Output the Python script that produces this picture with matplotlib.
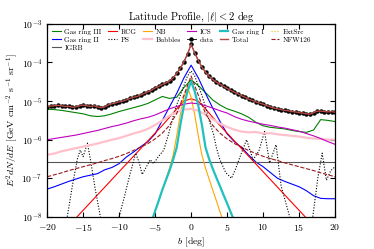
import numpy as np
import matplotlib
matplotlib.use('Agg')
import matplotlib.pyplot as plt

plt.rcParams['font.family'] = 'serif'
plt.rcParams['font.serif'] = ['cmr10', 'DejaVu Serif']
plt.rcParams['mathtext.fontset'] = 'cm'
plt.rcParams['axes.formatter.use_mathtext'] = True
plt.rcParams['axes.unicode_minus'] = True

# latitude grids
b_wide = np.arange(-20, 21, 1)
b_core = np.arange(-7, 7.5, 0.5)
b_data = np.arange(-20, 20.5, 0.5)

# log10 of E^2 dN/dE
data_log = [-5.15, -5.13, -5.12, -5.11, -5.12, -5.14, -5.13, -5.16, -5.15, -5.12,
            -5.10, -5.12, -5.14, -5.12, -5.15, -5.17, -5.15, -5.10, -5.07, -5.05,
            -5.02, -5.00, -4.97, -4.93, -4.90, -4.88, -4.84, -4.80, -4.76, -4.72,
            -4.66, -4.62, -4.57, -4.53, -4.48, -4.40, -4.28, -4.15, -3.98, -3.78,
            -3.53,
            -3.75, -3.95, -4.12, -4.25, -4.36, -4.44, -4.51, -4.56, -4.62, -4.67,
            -4.72, -4.77, -4.81, -4.86, -4.90, -4.95, -4.98, -5.02, -5.05, -5.08,
            -5.12, -5.15, -5.18, -5.20, -5.22, -5.24, -5.25, -5.27, -5.28, -5.30,
            -5.31, -5.33, -5.34, -5.30, -5.26, -5.26, -5.27, -5.28, -5.27, -5.29]
total_log = data_log

gas3_log = [-5.21, -5.22, -5.24, -5.27, -5.30, -5.33, -5.38, -5.40, -5.38, -5.33,
            -5.27, -5.22, -5.17, -5.12, -5.06, -4.97, -4.88, -4.93, -4.90, -4.65,
            -4.45,
            -4.60, -4.78, -4.97, -5.10, -5.20, -5.26, -5.33, -5.42, -5.55, -5.64,
            -5.68, -5.70, -5.72, -5.76, -5.79, -5.81, -5.75, -5.48, -5.50, -5.53]
ics_log = [-6.00, -5.97, -5.94, -5.91, -5.88, -5.84, -5.80, -5.76, -5.71, -5.66,
           -5.62, -5.57, -5.51, -5.46, -5.42, -5.36, -5.28, -5.20, -5.14, -5.08,
           -5.05,
           -5.07, -5.12, -5.18, -5.25, -5.31, -5.40, -5.47, -5.52, -5.56, -5.60,
           -5.63, -5.67, -5.70, -5.74, -5.78, -5.84, -5.90, -5.97, -6.05, -6.12]
bubbles_log = [-6.39, -6.36, -6.30, -6.26, -6.22, -6.18, -6.14, -6.10, -6.05, -6.00,
               -5.96, -5.90, -5.84, -5.79, -5.72, -5.62, -5.50, -5.38, -5.28, -5.22,
               -5.20,
               -5.25, -5.35, -5.47, -5.58, -5.67, -5.74, -5.79, -5.81, -5.80, -5.84,
               -5.83, -5.86, -5.88, -5.90, -5.92, -5.95, -5.97, -5.98, -6.00, -6.00]
gas2_log = [-7.28, -7.22, -7.15, -7.08, -7.02, -6.96, -6.92, -6.88, -6.78, -6.72,
            -6.62, -6.45, -6.32, -6.18, -6.05, -5.85, -5.50, -5.15, -4.80, -4.40,
            -4.07,
            -4.40, -4.80, -5.18, -5.52, -5.85, -6.05, -6.20, -6.40, -6.58, -6.70,
            -6.85, -7.00, -7.08, -7.15, -7.22, -7.32, -7.45, -7.52, -7.53, -7.53]
rcg_log = [-8.83, -8.63, -8.43, -8.23, -8.03, -7.83, -7.63, -7.43, -7.23, -7.03,
           -6.83, -6.63, -6.43, -6.23, -6.03, -5.83, -5.63, -5.42, -5.20, -5.00,
           -4.94,
           -5.00, -5.20, -5.42, -5.63, -5.83, -6.03, -6.23, -6.43, -6.63, -6.83,
           -7.03, -7.23, -7.43, -7.63, -7.83, -8.03, -8.23, -8.43, -8.63, -8.83]
nfw_log = [-6.96, -6.91, -6.86, -6.80, -6.75, -6.70, -6.65, -6.60, -6.54, -6.49,
           -6.43, -6.36, -6.28, -6.19, -6.10, -5.98, -5.83, -5.63, -5.32, -4.85,
           -4.35,
           -4.85, -5.32, -5.63, -5.83, -5.98, -6.10, -6.19, -6.28, -6.36, -6.43,
           -6.49, -6.54, -6.60, -6.65, -6.70, -6.75, -6.80, -6.86, -6.91, -6.96]
extsrc_log = [-9.5] * 41
igrb = 2.7e-7

gas1_log = [-8.9, -8.65, -8.4, -8.12, -7.85, -7.58, -7.3, -7.05, -6.8, -6.52,
            -6.2, -5.62, -5.12, -4.75, -4.49, -4.75, -5.12, -5.62, -6.2, -6.5,
            -6.75, -6.98, -7.2, -7.43, -7.65, -7.88, -8.1, -8.35, -8.6]
nb_log = [-9.0, -8.7, -8.42, -8.14, -7.86, -7.58, -7.3, -7.02, -6.74, -6.4,
          -5.9, -5.35, -4.9, -4.65, -4.9, -5.35, -5.9, -6.4, -6.74, -7.02,
          -7.3, -7.58, -7.86, -8.14, -8.42, -8.7, -9.0, -9.3, -9.6]

b_ps = [-20, -17.5, -17.2, -16.5, -15.8, -15.4, -15, -14.4, -14, -13.3, -12.6, -12.3,
        -10.5, -10, -9.3, -8.5, -7.7, -7.2, -6.8, -6.2, -5.7, -5.2, -4.6, -3.8, -3.2,
        -2.5, -2, -1.5, -1, -0.5, 0, 0.5, 1, 1.5, 2, 2.5, 3.1, 3.5, 4, 4.8, 5.6, 6.2,
        6.8, 7.7, 8.6, 9.4, 10.2, 10.9, 11.8, 12.5, 13.7, 14, 16.6, 16.9, 17.6, 18.2,
        18.8, 19.4, 20]
ps_log = [-9, -9, -8.0, -7.2, -6.5, -6.27, -6.44, -6.09, -6.5, -7.3, -8.0, -9,
          -9, -8.0, -7.5, -6.9, -6.35, -6.6, -6.9, -6.7, -6.52, -6.62, -6.45, -6.27, -5.9,
          -5.4, -5.1, -4.85, -4.6, -4.35, -4.22, -4.35, -4.6, -4.85, -5.15, -5.5, -5.85, -6.2,
          -6.52, -6.85, -7.0, -6.75, -6.44, -6.0, -6.52, -6.3, -5.79, -6.6, -6.13, -7.2,
          -8.0, -9, -9, -8.0, -7.0, -6.35, -7.05, -6.8, -6.7]

def lin(v):
    return 10 ** np.array(v)

fig = plt.figure(figsize=(3.74, 2.49), dpi=100)
ax = fig.add_axes([0.126, 0.129, 0.770, 0.775])

lw = 0.8
ax.plot(b_wide, lin(gas3_log), color='green', lw=lw, label='Gas ring III')
ax.plot(b_wide, lin(gas2_log), color='blue', lw=lw, label='Gas ring II')
ax.axhline(igrb, color='#555555', lw=0.8, label='IGRB')
ax.plot(b_wide, lin(rcg_log), color='red', lw=lw, label='RCG')
ax.plot(b_ps, lin(ps_log), color='black', ls=(0, (1, 1.5)), lw=lw, label='PS')
ax.plot(b_core, lin(nb_log), color='orange', lw=lw, label='NB')
ax.plot(b_wide, lin(bubbles_log), color='pink', lw=1.6, label='Bubbles')
ax.plot(b_wide, lin(ics_log), color='m', lw=lw, label='ICS')
ax.plot(b_data, lin(data_log), color='black', lw=0.6, marker='o', ms=2.2, label='data')
ax.plot(b_core, lin(gas1_log), color='#20c0c0', lw=1.6, label='Gas ring I')
ax.plot(b_data, lin(total_log), color='#b84a45', lw=1.0, label='Total')
ax.plot(b_wide, lin(extsrc_log), color='#d8c400', ls=':', lw=lw, label='ExtSrc')
ax.plot(b_wide, lin(nfw_log), color='#9b1b1b', ls='--', lw=lw, label='NFW126')

ax.set_yscale('log')
ax.set_xlim(-20, 20)
ax.set_ylim(1e-8, 1e-3)
ax.tick_params(which='both', direction='in', top=True, right=True, labelsize=7)
ax.tick_params(which='minor', left=False, right=False)
for s in ax.spines.values():
    s.set_linewidth(0.9)
ax.set_title(r'Latitude Profile, $|\ell| < 2$ deg', fontsize=7.5, pad=3)
ax.set_xlabel(r'$b$ [deg]', fontsize=7, labelpad=2)
ax.set_ylabel(r'$E^2 dN/dE$ [GeV cm$^{-2}$ s$^{-1}$ sr$^{-1}$]', fontsize=7, labelpad=1)
ax.legend(ncol=6, loc='upper left', fontsize=5.2, frameon=False, handlelength=1.2,
          columnspacing=0.9, handletextpad=0.5, labelspacing=0.25,
          borderaxespad=0.3)

fig.savefig('out.png', dpi=100)
